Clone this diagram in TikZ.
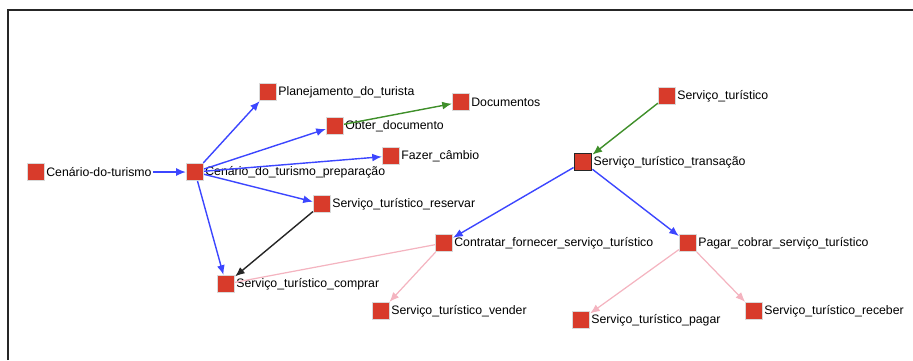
\documentclass[tikz,border=0pt]{standalone}
\usepackage{fontspec}
\setmainfont{Liberation Sans}
\usetikzlibrary{arrows,arrows.meta,positioning}
\definecolor{conceptred}{HTML}{D83B2B}
\definecolor{linkblue}{HTML}{3C46FF}
\definecolor{linkgreen}{HTML}{3F8F2A}
\definecolor{linkpink}{HTML}{F4B4C0}
\tikzset
{
    concept/.style args = {#1/#2}{rectangle, fill=conceptred, draw=black!15, minimum size=0.35cm, inner sep=0pt,
                      label={[labeltext, name=#1]right:#2}},
    labeltext/.style = {font=\fontsize{7}{8}\selectfont, inner sep=0.5pt, label distance=0pt},
    focus/.style = {draw=black!85, line width=0.8pt},
    isa/.style = {line width=0.8pt, ->, >={Latex[length=5.5pt,width=4.5pt]}, draw=linkblue},
    part/.style = {line width=0.8pt, ->, >={Latex[length=5.5pt,width=4.5pt]}, draw=linkgreen},
    plain/.style = {line width=0.8pt, ->, >={Latex[length=5.5pt,width=4.5pt]}, draw=black!85},
    assoc/.style = {line width=0.7pt, ->, >={Latex[length=5.5pt,width=4.5pt]}, draw=linkpink}
}
\begin{document}
\begin{tikzpicture}[x=0.02cm, y=-0.02cm]
   \useasboundingbox (0, 0) rectangle (913, 360);
   \draw[line width=1pt, black!85] (8, 360) -- (8, 10) -- (913, 10);

   % cenario (left)
   \node (cen)   [concept={centext/Cenário-do-turismo}]              at (36, 172)  {};
   \node (prep)  [concept={preptext/Cenário\_do\_turismo\_preparação}] at (195, 172) {};
   \node (plan)  [concept={plantext/Planejamento\_do\_turista}]       at (268, 92)  {};
   \node (obter) [concept={obtertext/Obter\_documento}]               at (335, 126) {};
   \node (docs)  [concept={docstext/Documentos}]                     at (461, 102) {};
   \node (camb)  [concept={cambtext/Fazer\_câmbio}]                  at (391, 156) {};
   \node (res)   [concept={restext/Serviço\_turístico\_reservar}]    at (322, 204) {};
   \node (comp)  [concept={comptext/Serviço\_turístico\_comprar}]     at (226, 284) {};

   % servico (right)
   \node (serv)  [concept={servtext/Serviço\_turístico}]             at (667, 96)  {};
   \node (trans) [concept={transtext/Serviço\_turístico\_transação}, focus] at (583, 162) {};
   \node (contr) [concept={contrtext/Contratar\_fornecer\_serviço\_turístico}] at (444, 243) {};
   \node (pcob)  [concept={pcobtext/Pagar\_cobrar\_serviço\_turístico}] at (688, 243) {};
   \node (vend)  [concept={vendtext/Serviço\_turístico\_vender}]      at (381, 311) {};
   \node (spag)  [concept={spagtext/Serviço\_turístico\_pagar}]       at (581, 320) {};
   \node (rec)   [concept={rectext/Serviço\_turístico\_receber}]     at (754, 311) {};

   \path
      (centext) edge[isa]  (prep)
      (prep)  edge[isa]    (plan)
      (prep)  edge[isa]    (obter)
      (prep)  edge[isa]    (camb)
      (prep)  edge[isa]    (res)
      (prep)  edge[isa]    (comp)
      (obter) edge[part]   (docs)
      (res)   edge[plain]  (comp)
      (contr) edge[assoc,-] (comp)
      (contr) edge[assoc]  (vend)
      (serv)  edge[part]   (trans)
      (trans) edge[isa]    (contr)
      (trans) edge[isa]    (pcob)
      (pcob)  edge[assoc]  (spag)
      (pcob)  edge[assoc]  (rec);
\end{tikzpicture}
\end{document}
